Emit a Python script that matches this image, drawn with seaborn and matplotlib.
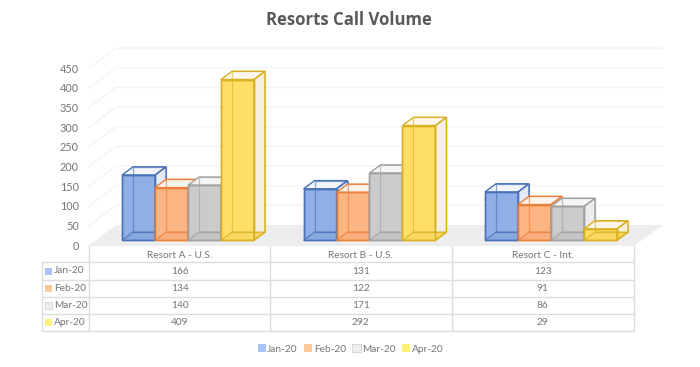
import pandas as pd
import seaborn as sns
import matplotlib.pyplot as plt
from matplotlib.patches import Polygon, Rectangle, Patch

resorts = ['Resort A - U.S.', 'Resort B - U.S.', 'Resort C - Int.']
months = ['Jan-20', 'Feb-20', 'Mar-20', 'Apr-20']
jan = [166, 131, 123]
feb = [134, 122, 91]
mar = [140, 171, 86]
apr = [409, 292, 29]
y_ticks = [0, 50, 100, 150, 200, 250, 300, 350, 400, 450]

fills = ['#8FAFE6', '#FDB583', '#CBCBCB', '#FFDF66']
floors = ['#88A8E0', '#F9AF7D', '#C5C5C5', '#F9D961']
edges = ['#4A72B8', '#E9803A', '#A0A0A0', '#D9B021']
sides = ['#E3E9F4', '#F5EDE6', '#EBEBEB', '#F5EFDD']
tops = ['#F1F4FA', '#FBF3EC', '#F5F5F5', '#FCF7E8']
keys = ['#A9C4F5', '#FDC999', '#EDEDED', '#FFF27A']
text_color = '#757575'
grid_color = '#F4F4F4'
table_color = '#DDDDDD'

df = pd.DataFrame({'resort': resorts * 4,
                   'month': [m for m in months for _ in resorts],
                   'calls': jan + feb + mar + apr})

sns.set_theme(style='white')
plt.rcParams['font.family'] = ['Lato', 'DejaVu Sans']

W, H = 700, 367
fig = plt.figure(figsize=(W / 100, H / 100), dpi=100, facecolor='white')

# background layer in pixel coordinates: walls, floor, table, texts
bg = fig.add_axes([0, 0, 1, 1], zorder=0)
bg.set_xlim(0, W)
bg.set_ylim(H, 0)
bg.axis('off')

# front layer holds the bars, 0 at y=240.3 px, 450 at y=63.4 px
left, right, base, top = 97.25, 641.75, 240.3, 63.4
ax = fig.add_axes([left / W, 1 - base / H, (right - left) / W, (base - top) / H], zorder=1)
ax.patch.set_alpha(0)
sns.barplot(data=df, x='resort', y='calls', hue='month', order=resorts, hue_order=months,
            palette=fills, saturation=1, width=0.727, gap=0, legend=False, ax=ax)
ax.set_xlim(-0.5, 2.5)
ax.set_ylim(0, 450)
ax.axis('off')

px_per_unit = (base - top) / 450
px_per_cat = (right - left) / 3
depth_x = 11 / px_per_cat
depth_y = 8.2 / px_per_unit

# walls and floor
def val_y(v):
    return base + 5.7 - v * px_per_unit

for v in y_ticks[1:]:
    bg.plot([88, 116, 663], [val_y(v), val_y(v) - 21, val_y(v) - 21], color=grid_color, lw=1)
bg.add_patch(Polygon([(88, 246), (116, 225), (663, 225), (634, 246)], facecolor='#EDEDED', edgecolor='none'))
for v in y_ticks:
    bg.text(79, val_y(v), str(v), ha='right', va='center', fontsize=7.8, color=text_color)

# 3D faces worked out from the bars seaborn drew
for i, cont in enumerate(ax.containers):
    for j, bar in enumerate(cont):
        x0, w, h = bar.get_x(), bar.get_width(), bar.get_height()
        x1 = x0 + w
        dx, dy = depth_x, depth_y
        z = 2 + j * 10 + i
        ec = edges[i]
        bar.set_edgecolor(ec)
        bar.set_linewidth(1.0)
        bar.set_zorder(z + 0.5)
        top_face = [(x0, h), (x1, h), (x1 + dx, h + dy), (x0 + dx, h + dy)]
        ax.add_patch(Polygon(top_face, closed=True, facecolor=tops[i], edgecolor='none', alpha=0.9, zorder=z))
        side = [(x1, 0), (x1 + dx, dy), (x1 + dx, h + dy), (x1, h)]
        ax.add_patch(Polygon(side, closed=True, facecolor=sides[i], edgecolor='none', alpha=0.9, zorder=z))
        floor_face = [(x0, 0), (x1, 0), (x1 + dx, dy), (x0 + dx, dy)]
        ax.add_patch(Polygon(floor_face, closed=True, facecolor=floors[i], edgecolor='none', zorder=z + 0.6))
        # rear edges show through the translucent front
        back = [(x0 + dx, dy), (x1 + dx, dy), (x1 + dx, h + dy), (x0 + dx, h + dy)]
        ax.add_patch(Polygon(back, closed=True, facecolor='none', edgecolor=ec, lw=0.9, alpha=0.6, zorder=z + 0.7))
        ax.add_patch(Polygon(floor_face, closed=True, facecolor='none', edgecolor=ec, lw=0.9, alpha=0.8, zorder=z + 0.8))
        ax.add_patch(Polygon(top_face, closed=True, facecolor='none', edgecolor=ec, lw=1.0, zorder=z + 0.8))
        ax.add_patch(Polygon(side, closed=True, facecolor='none', edgecolor=ec, lw=1.0, zorder=z + 0.8))
        ax.add_patch(Rectangle((x0, 0), w, h, facecolor='none', edgecolor=ec, lw=1.0, zorder=z + 0.9))
for p in ax.patches:
    p.set_clip_on(False)

# data table
col_x = [89.3, 270, 451.6, 633.7]
row_y = [262.3, 280, 297.3, 314.3, 331.3]
for x in col_x:
    bg.plot([x, x], [246, row_y[-1]], color=table_color, lw=1)
bg.plot([42.3, 42.3], [row_y[0], row_y[-1]], color=table_color, lw=1)
for y in row_y:
    bg.plot([42.3, col_x[-1]], [y, y], color=table_color, lw=1)
for k, name in enumerate(resorts):
    cx = (col_x[k] + col_x[k + 1]) / 2
    bg.text(cx, 255.5, name, ha='center', va='center', fontsize=7.3, color=text_color)
for r, row in enumerate([jan, feb, mar, apr]):
    cy = (row_y[r] + row_y[r + 1]) / 2
    bg.add_patch(Rectangle((45, cy - 3.5), 7, 7, facecolor=keys[r], edgecolor='#D0D0D0' if r == 2 else 'none', lw=0.6))
    bg.text(54, cy - 0.5, months[r], ha='left', va='center', fontsize=7.3, color=text_color)
    for k, val in enumerate(row):
        bg.text((col_x[k] + col_x[k + 1]) / 2, cy, str(val), ha='center', va='center', fontsize=7.3, color=text_color)

fig.legend(handles=[Patch(facecolor=keys[i], edgecolor='#D0D0D0' if i == 2 else 'none', lw=0.6, label=months[i]) for i in range(4)],
           loc='center', bbox_to_anchor=(350.5 / W, 1 - 349 / H), ncol=4, frameon=False,
           fontsize=7.3, labelcolor=text_color, handlelength=0.8, handleheight=0.8,
           handletextpad=0.15, columnspacing=0.65)

bg.text(349, 20, 'Resorts Call Volume', ha='center', va='center', fontsize=12.1, fontweight='bold',
        color='#595959', family=['Open Sans', 'DejaVu Sans'])

fig.savefig('out.png', dpi=100)
